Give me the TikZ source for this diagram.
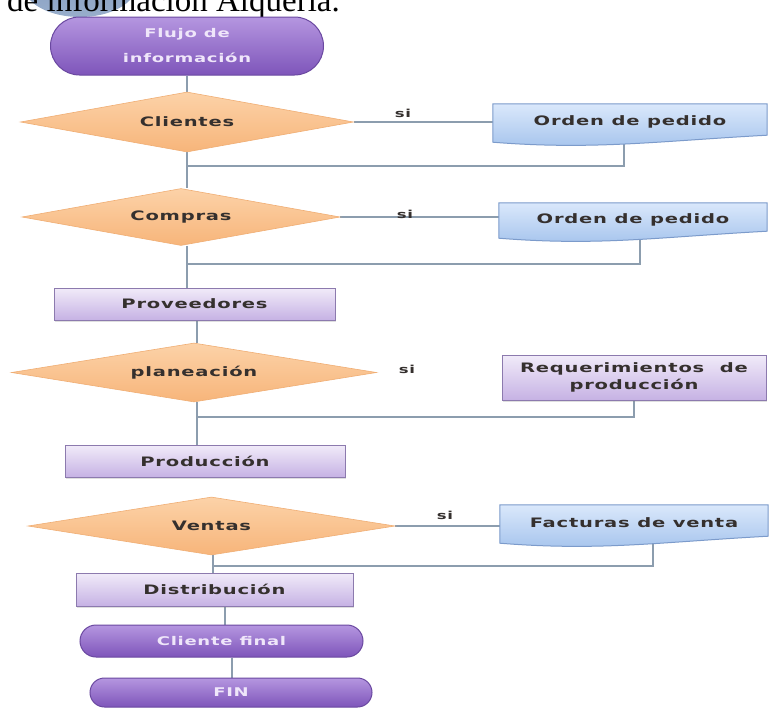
\documentclass[tikz,border=0pt]{standalone}
\usepackage{fontspec}
\setmainfont{DejaVu Sans}
\newfontfamily\boxfont[FakeStretch=1.5,LetterSpace=6]{DejaVu Sans}
\newfontfamily\headfont{Liberation Serif}
\usetikzlibrary{shapes.geometric,shapes.misc,shadows,calc}

\definecolor{linec}{HTML}{8C9DAE}
\definecolor{txt}{HTML}{35302E}
\definecolor{peachT}{HTML}{FCD2A8}
\definecolor{peachB}{HTML}{F7B57A}
\definecolor{peachD}{HTML}{F0AE74}
\definecolor{blueT}{HTML}{DAE8FB}
\definecolor{blueB}{HTML}{A3C2EC}
\definecolor{blueD}{HTML}{7C9BCB}
\definecolor{lavT}{HTML}{F1EBF9}
\definecolor{lavB}{HTML}{C6B2E4}
\definecolor{lavD}{HTML}{8C7AAE}
\definecolor{pillT}{HTML}{B596E0}
\definecolor{pillB}{HTML}{7E55BA}
\definecolor{pillD}{HTML}{6A48A0}
\definecolor{pillTxt}{HTML}{EFE6FA}

\pgfdeclarelayer{paper}
\pgfdeclarelayer{lines}
\pgfdeclarelayer{shapes}
\pgfsetlayers{paper,lines,shapes,main}

% document-shaped outline (wavy bottom) around a named node
\newcommand\drawdoc[1]{%
  \path[docfill] (#1.north west) -- (#1.north east) -- ([yshift=5pt]#1.south east)
    .. controls +(-110pt,-6pt) and +(100pt,-8pt) .. ([yshift=-2pt]#1.south west) -- cycle;}

\tikzset{
  flow/.style={draw=linec,line width=1.6pt},
  boxtext/.style={font=\boxfont\bfseries\fontsize{13}{17}\selectfont,text=txt,align=center},
  decision/.style={boxtext,diamond,aspect=6,inner sep=0pt,top color=peachT,bottom color=peachB,
    draw=peachD,line width=0.6pt},
  procbox/.style={boxtext,rectangle,inner sep=0pt,top color=lavT,bottom color=lavB,
    draw=lavD,line width=1pt,
    drop shadow={shadow xshift=1pt,shadow yshift=-1.5pt,opacity=0.25}},
  docbox/.style={boxtext,rectangle,inner sep=0pt},
  docfill/.style={top color=blueT,bottom color=blueB,draw=blueD,line width=1pt},
  terminal/.style={rounded rectangle,rounded rectangle arc length=180,inner sep=0pt,
    top color=pillT,bottom color=pillB,draw=pillD,line width=1pt,
    font=\boxfont\bfseries\fontsize{12}{25}\selectfont,text=pillTxt,align=center},
  yes/.style={font=\boxfont\bfseries\fontsize{11}{12}\selectfont,text=txt,inner sep=1pt}
}

\begin{document}
\begin{tikzpicture}[x=1pt,y=-1pt]
\useasboundingbox (0,0) rectangle (770,707);
\begin{pgfonlayer}{paper}
  \fill[white] (0,0) rectangle (770,707);
\end{pgfonlayer}
\clip (0,0) rectangle (770,707);

% heading strip above the chart
\path[top color=blueD!80!gray,bottom color=blueB!70!gray] (80,-14) ellipse [x radius=56, y radius=31];
\node[anchor=base west,inner sep=0pt,font=\headfont\fontsize{33}{33}\selectfont] (head) at (7,11) {de información Alquería.};

% main column
\node[terminal,minimum width=273,minimum height=58] (start) at (187,46) {Flujo de\\información};
\node[decision,minimum width=333,minimum height=60] (cl) at (187,122) {Clientes};
\node[decision,minimum width=318,minimum height=57] (co) at (181,217) {Compras};
\node[procbox,minimum width=281,minimum height=32] (pv) at (194.5,304) {Proveedores};
\node[decision,minimum width=365,minimum height=59] (pl) at (194,372.5) {planeación};
\node[procbox,minimum width=280,minimum height=32] (pr) at (205,461) {Producción};
\node[decision,minimum width=367,minimum height=58] (ve) at (211.5,526) {Ventas};
\node[procbox,minimum width=277,minimum height=33] (di) at (214.5,589.5) {Distribución};
\node[terminal,minimum width=283,minimum height=32] (cf) at (221.5,641) {Cliente final};
\node[terminal,minimum width=282,minimum height=29] (fin) at (231,692.5) {FIN};

% side column
\node[docbox,minimum width=274,minimum height=36] (o1) at (630,122) {Orden de pedido};
\node[docbox,minimum width=268,minimum height=33] (o2) at (633,219.5) {Orden de pedido};
\node[procbox,minimum width=264,minimum height=45] (rq) at (634,377.5) {Requerimientos\hspace{1.2em}de\\producción};
\node[docbox,minimum width=268,minimum height=36] (fa) at (634,523) {Facturas de venta};

\begin{pgfonlayer}{shapes}
  \drawdoc{o1}
  \drawdoc{o2}
  \drawdoc{fa}
\end{pgfonlayer}

% "si" labels
\node[yes,anchor=south] (s1) at (403,119) {si};
\node[yes,anchor=south] (s2) at (405,220) {si};
\node[yes,anchor=south] (s3) at (407,375) {si};
\node[yes,anchor=south] (s4) at (445,521) {si};

% junction points on the main column
\coordinate (j1) at (187,166);
\coordinate (j2) at (187,264);
\coordinate (j3) at (197,417);
\coordinate (j4) at (213,566);

\begin{pgfonlayer}{lines}
  \draw[flow] (start.south) -- (cl.north);
  \draw[flow] (cl.south) -- (j1) -- (j1 |- co.north);
  \draw[flow] (j1 |- co.south) -- (j2) -- (j2 |- pv.north);
  \draw[flow] ([xshift=2.5pt]pv.south) -- (j3 |- pl.north);
  \draw[flow] (j3 |- pl.south) -- (j3) -- (j3 |- pr.north);
  \draw[flow] (j4 |- ve.south) -- (j4) -- (j4 |- di.north);
  \draw[flow] ([xshift=10.5pt]di.south) -- ([xshift=3.5pt]cf.north);
  \draw[flow] ([xshift=10.5pt]cf.south) -- ([xshift=1pt]fin.north);

  % "si" branches
  \draw[flow] (cl.east) -- (cl.east -| o1.west);
  \draw[flow] (co.east) -- (co.east -| o2.west);
  \draw[flow] (ve.east) -- (ve.east -| fa.west);

  % returns into the main column
  \draw[flow] ([xshift=-6pt]o1.south) |- (j1);
  \draw[flow] ([xshift=7pt]o2.south) |- (j2);
  \draw[flow] (rq.south) |- (j3);
  \draw[flow] ([xshift=19pt]fa.south) |- (j4);
\end{pgfonlayer}
\end{tikzpicture}
\end{document}
